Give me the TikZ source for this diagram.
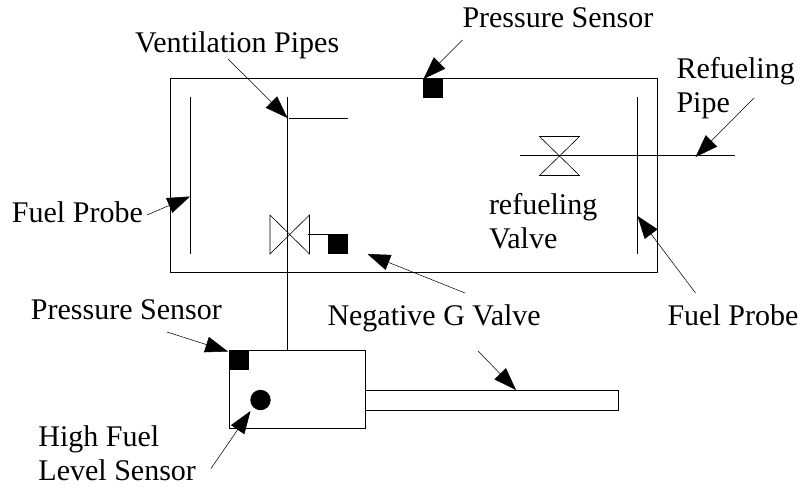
\documentclass[tikz,border=0pt]{standalone}
\usepackage{fontspec}
\setmainfont{Liberation Serif}
\usetikzlibrary{arrows.meta}
\tikzset{
  lbl/.style={anchor=base west,inner sep=0pt,outer sep=0pt,align=left,font=\fontsize{22.5}{25.5}\selectfont},
  pipe/.style={line width=0.75pt,line cap=butt},
  valvebody/.style={line width=0.45pt,line join=miter},
  box/.style={draw,line width=0.75pt,inner sep=0pt,outer sep=0pt},
  sensor/.style={fill=black,draw=none,inner sep=0pt,outer sep=0pt,minimum width=15pt,minimum height=15pt},
  ball/.style={circle,fill=black,draw=none,inner sep=0pt,outer sep=0pt,minimum size=15.3pt},
  callout/.style={line width=0.4pt,-{Triangle[length=17pt,width=12pt]}},
}
\begin{document}
\begin{tikzpicture}[x=0.75pt,y=-0.75pt]
\useasboundingbox (0,0) rectangle (800,486);
% tank and boxes
\node[box,minimum width=365.25pt,minimum height=145.5pt] (tank) at (414,175.5) {};
\node[box,minimum width=102pt,minimum height=58.5pt] (coll) at (297.5,389.5) {};
\node[box,minimum width=189.75pt,minimum height=15pt] (tube) at (492,400.5) {};
% probes and pipes
\coordinate (pl1) at (190.5,97); \coordinate (pl2) at (190.5,254);
\coordinate (pr1) at (637.5,97); \coordinate (pr2) at (637.5,254);
\coordinate (v1) at (287.5,97); \coordinate (v2) at (287.5,350.5);
\coordinate (vh1) at (288.5,118.5); \coordinate (vh2) at (348,118.5);
\coordinate (fp1) at (520,155.5); \coordinate (fp2) at (735,155.5);
\draw[pipe] (pl1) -- (pl2);
\draw[pipe] (pr1) -- (pr2);
\draw[pipe] (v1) -- (v2);
\draw[pipe] (vh1) -- (vh2);
\draw[pipe] (fp1) -- (fp2);
% valves
\draw[valvebody] (270,215) -- (309.5,254) -- (309.5,215) -- (270,254) -- cycle;
\draw[valvebody] (539.5,136.5) -- (579.5,175.5) -- (539.5,175.5) -- (579.5,136.5) -- cycle;
% sensors
\node[sensor] (s1) at (433,88.3) {};
\node[sensor] (s2) at (338,244.3) {};
\node[sensor] (s3) at (239.2,360.2) {};
\node[ball] (lvl) at (260.5,400) {};
\coordinate (stem) at (308,234.5);
\draw[pipe] (stem) -- (stem -| s2.west);
% labels
\node[lbl] (lvent) at (135,52) {Ventilation Pipes};
\node[lbl] (lps1) at (462.5,27) {Pressure Sensor};
\node[lbl] (lref) at (676.5,112) {Refueling\\Pipe};
\node[lbl] (lfp1) at (12,222.5) {Fuel Probe};
\node[lbl] (lval) at (489,248) {refueling\\Valve};
\node[lbl] (lps2) at (31,319.5) {Pressure Sensor};
\node[lbl] (lneg) at (327.5,325.5) {Negative G Valve};
\node[lbl] (lfp2) at (667.5,325.5) {Fuel Probe};
\node[lbl] (lhi) at (38.5,480.5) {High Fuel\\Level Sensor};
% callout ends
\coordinate (a1s) at (228,59);    \coordinate (a1t) at (287.5,118);
\coordinate (a2s) at (462.5,40);  \coordinate (a2t) at (423.5,79);
\coordinate (a3s) at (754,98);    \coordinate (a3t) at (695.5,157);
\coordinate (a4s) at (147,215);   \coordinate (a4t) at (190,196.5);
\coordinate (a5s) at (695.5,293); \coordinate (a5t) at (637.5,216);
\coordinate (a6s) at (465,293);   \coordinate (a6t) at (367.5,254);
\coordinate (a7s) at (478,351);   \coordinate (a7t) at (516,390);
\coordinate (a8s) at (167,332);   \coordinate (a8t) at (228,351.5);
\coordinate (a9s) at (211,468.5); \coordinate (a9t) at (250.5,411);
\foreach \n in {1,...,9} \draw[callout] (a\n s) -- (a\n t);
\end{tikzpicture}
\end{document}
